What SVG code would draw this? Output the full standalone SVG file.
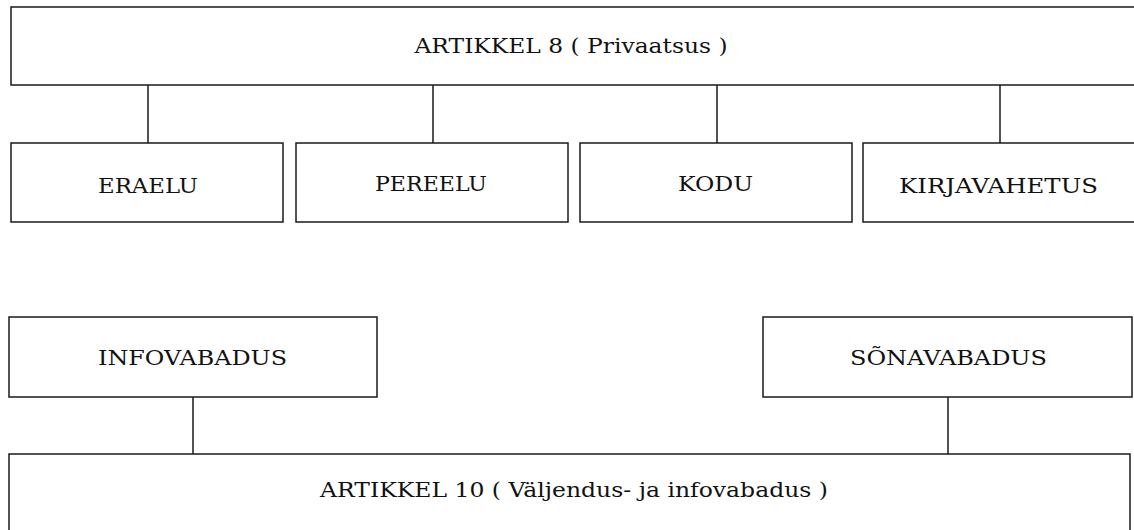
<svg xmlns="http://www.w3.org/2000/svg" width="1134" height="530" viewBox="0 0 1134 530">
<style>
.box{fill:#fff;stroke:#1a1a1a;stroke-width:1.5}
.con{stroke:#1a1a1a;stroke-width:1.5;fill:none}
.t{font-family:"DejaVu Serif","Liberation Serif",serif;font-size:20px;fill:#111;text-anchor:middle}
</style>
<rect width="1134" height="530" fill="#fff"/>
<g id="connectors">
<line class="con" x1="148" y1="85" x2="148" y2="143"/>
<line class="con" x1="433" y1="85" x2="433" y2="143"/>
<line class="con" x1="717" y1="85" x2="717" y2="143"/>
<line class="con" x1="1000" y1="85" x2="1000" y2="143"/>
<line class="con" x1="193" y1="397" x2="193" y2="454"/>
<line class="con" x1="948" y1="397" x2="948" y2="454"/>
</g>
<g id="artikkel8">
<rect class="box" x="11" y="7" width="1140" height="78"/>
<text class="t" x="571" y="53" textLength="313" lengthAdjust="spacingAndGlyphs">ARTIKKEL 8 ( Privaatsus )</text>
</g>
<g id="eraelu">
<rect class="box" x="11" y="143" width="272" height="79"/>
<text class="t" x="148" y="193" textLength="100" lengthAdjust="spacingAndGlyphs">ERAELU</text>
</g>
<g id="pereelu">
<rect class="box" x="296" y="143" width="272" height="79"/>
<text class="t" x="431" y="191" textLength="112" lengthAdjust="spacingAndGlyphs">PEREELU</text>
</g>
<g id="kodu">
<rect class="box" x="580" y="143" width="272" height="79"/>
<text class="t" x="715.5" y="191" textLength="75" lengthAdjust="spacingAndGlyphs">KODU</text>
</g>
<g id="kirjavahetus">
<rect class="box" x="863" y="143" width="300" height="79"/>
<text class="t" x="998.5" y="193" textLength="199" lengthAdjust="spacingAndGlyphs">KIRJAVAHETUS</text>
</g>
<g id="infovabadus">
<rect class="box" x="9" y="317" width="368" height="80"/>
<text class="t" x="192.5" y="365" textLength="189" lengthAdjust="spacingAndGlyphs">INFOVABADUS</text>
</g>
<g id="sonavabadus">
<rect class="box" x="763" y="317" width="369" height="80"/>
<text class="t" x="948.5" y="365" textLength="197" lengthAdjust="spacingAndGlyphs">SÕNAVABADUS</text>
</g>
<g id="artikkel10">
<rect class="box" x="9" y="454" width="1121" height="100"/>
<text class="t" x="574" y="497" textLength="508" lengthAdjust="spacingAndGlyphs">ARTIKKEL 10 ( Väljendus- ja infovabadus )</text>
</g>
</svg>
